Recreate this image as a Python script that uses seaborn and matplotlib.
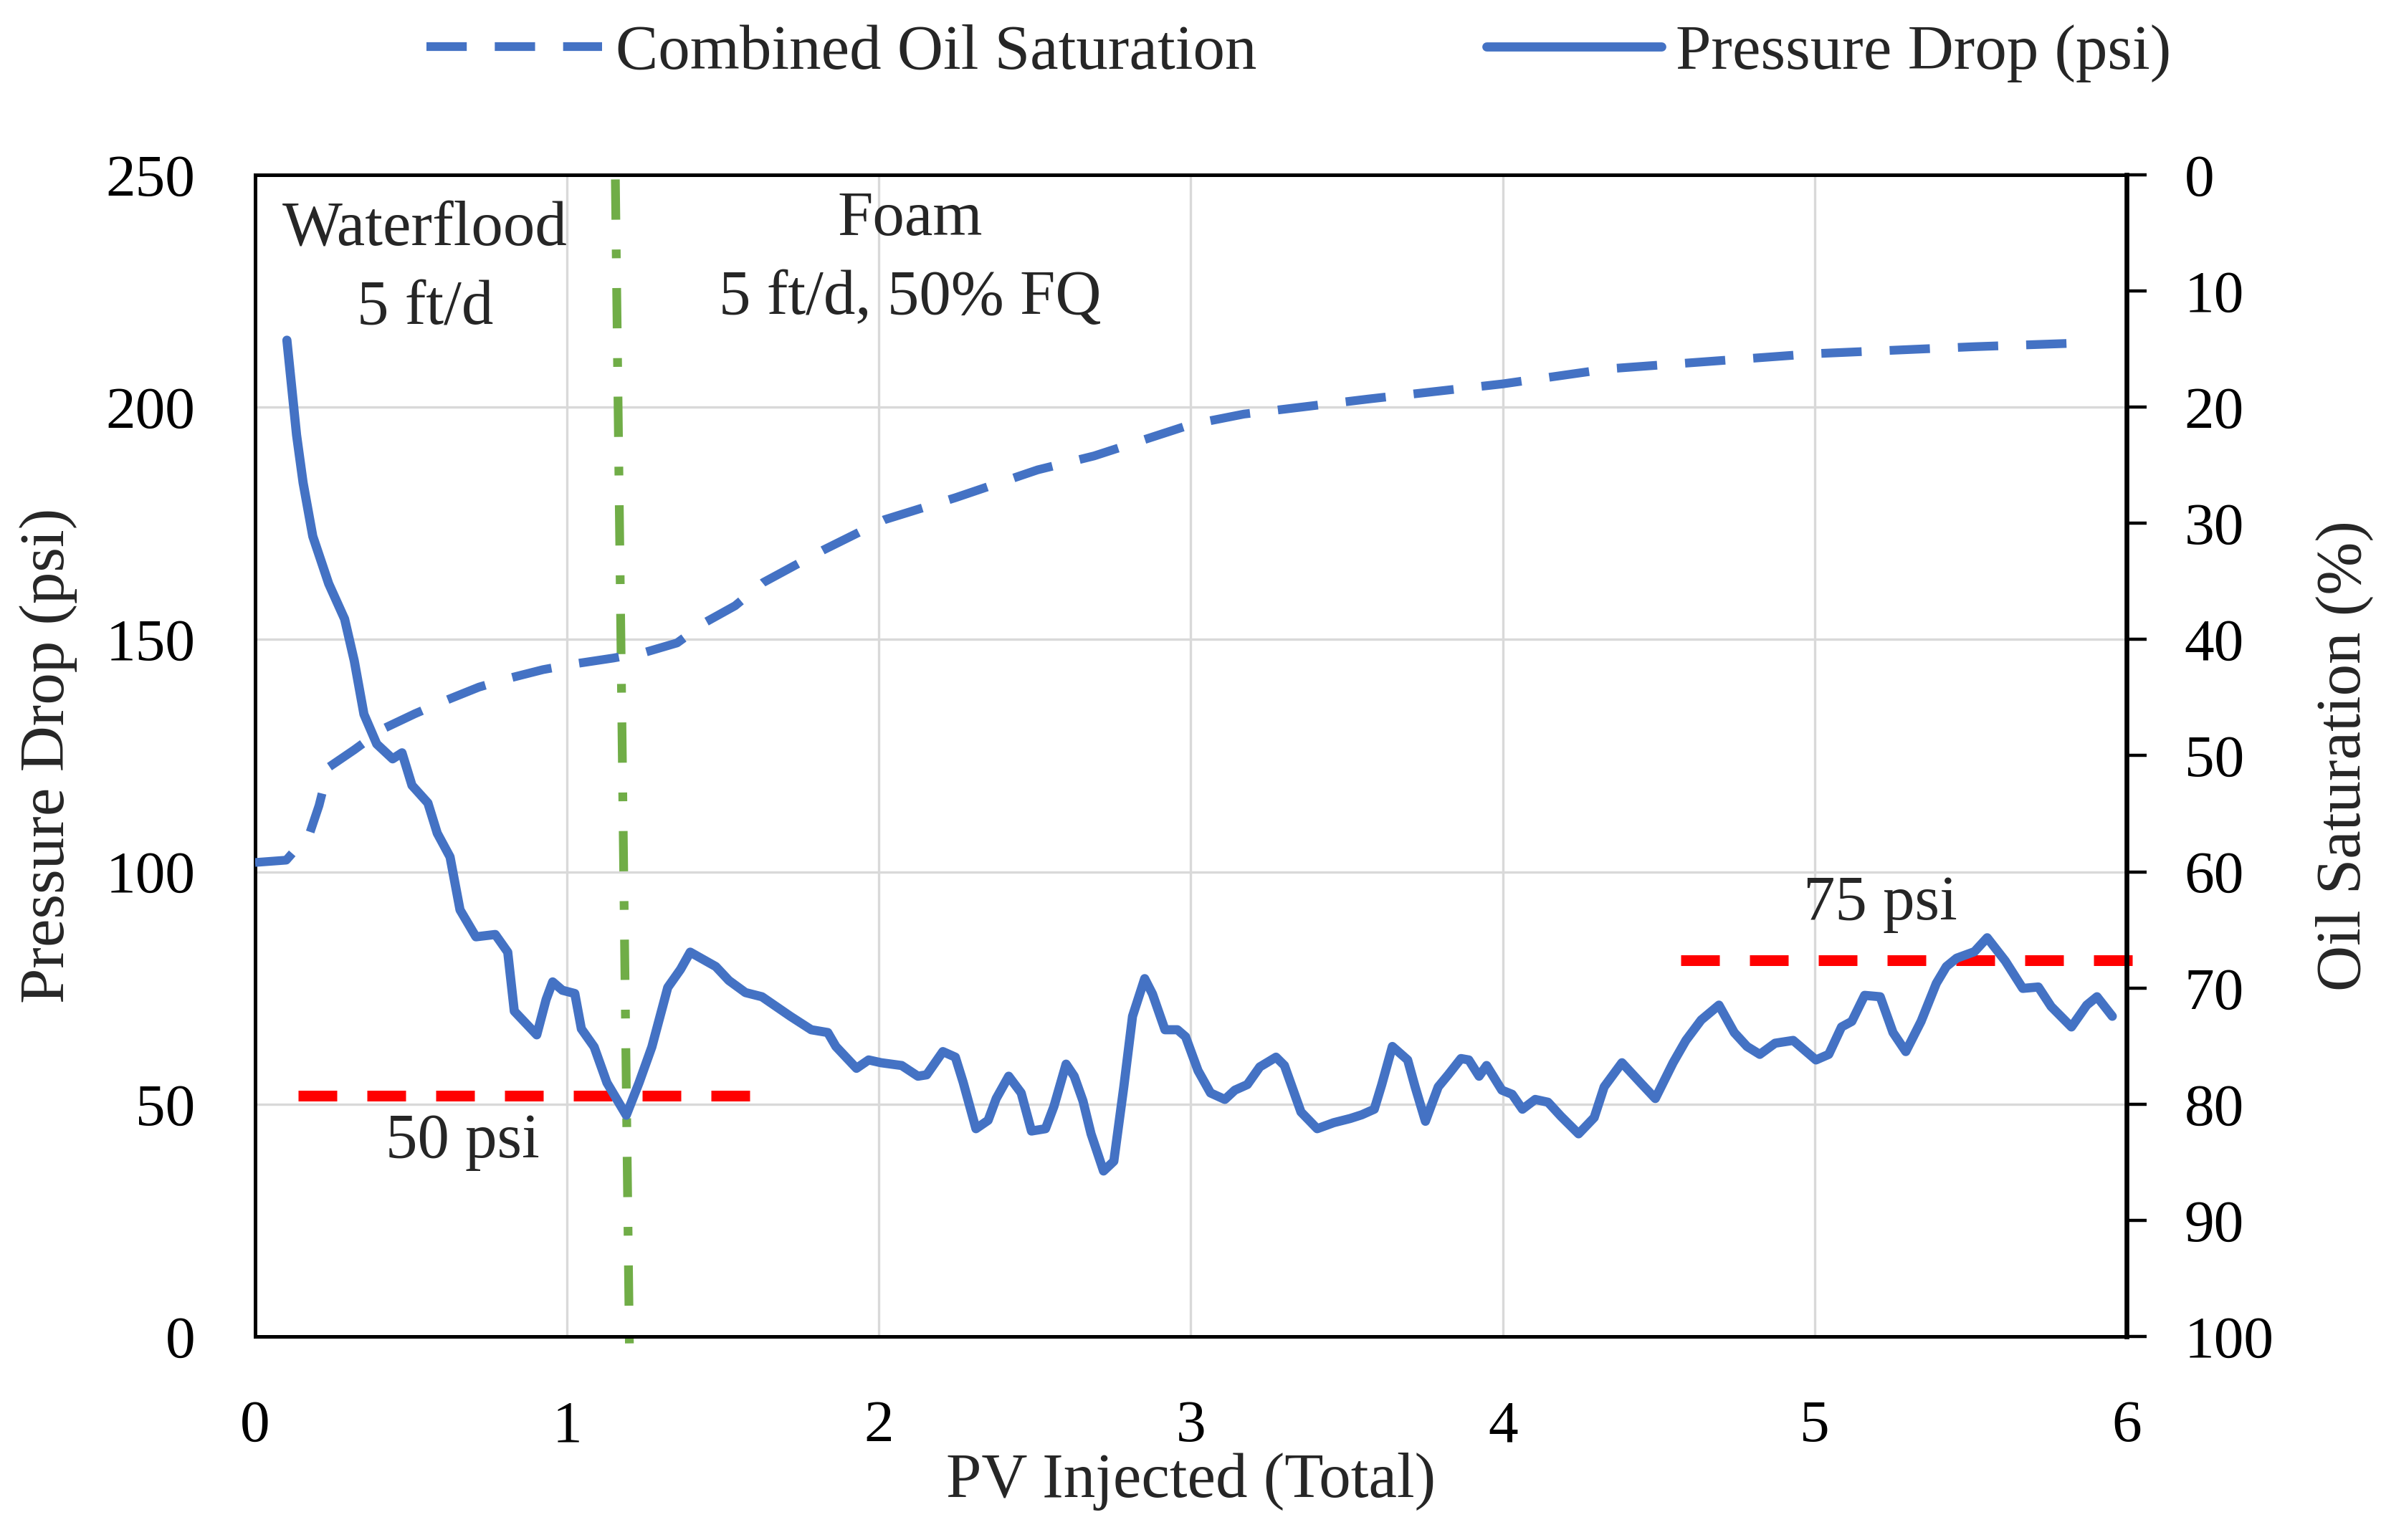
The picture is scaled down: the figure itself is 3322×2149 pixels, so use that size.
import matplotlib
matplotlib.use("Agg")
import matplotlib.pyplot as plt
import seaborn as sns

# pressure drop trace (psi) vs PV injected
pv = [0.102, 0.133, 0.154, 0.185, 0.236, 0.287, 0.318, 0.349, 0.390, 0.441,
      0.471, 0.503, 0.554, 0.584, 0.625, 0.657, 0.708, 0.770, 0.810, 0.831,
      0.903, 0.933, 0.954, 0.985, 1.025, 1.046, 1.087, 1.128, 1.190, 1.231,
      1.272, 1.323, 1.364, 1.395, 1.477, 1.519, 1.572, 1.625, 1.664, 1.716,
      1.783, 1.836, 1.862, 1.928, 1.967, 2.007, 2.073, 2.125, 2.153, 2.205,
      2.245, 2.270, 2.311, 2.350, 2.376, 2.416, 2.456, 2.489, 2.534, 2.561,
      2.600, 2.626, 2.654, 2.680, 2.720, 2.753, 2.785, 2.813, 2.852, 2.877,
      2.917, 2.957, 2.983, 3.023, 3.063, 3.109, 3.141, 3.181, 3.221, 3.273,
      3.300, 3.353, 3.405, 3.458, 3.511, 3.548, 3.588, 3.612, 3.646, 3.695,
      3.719, 3.752, 3.793, 3.825, 3.866, 3.891, 3.924, 3.948, 3.997, 4.030,
      4.063, 4.104, 4.145, 4.186, 4.243, 4.293, 4.325, 4.382, 4.440, 4.489,
      4.546, 4.587, 4.636, 4.693, 4.742, 4.783, 4.824, 4.873, 4.931, 5.004,
      5.045, 5.086, 5.119, 5.160, 5.210, 5.251, 5.292, 5.341, 5.390, 5.422,
      5.455, 5.512, 5.553, 5.611, 5.667, 5.717, 5.758, 5.823, 5.872, 5.905,
      5.954]
dp = [214.4, 194.0, 183.7, 172.2, 162.0, 154.4, 145.4, 133.9, 127.5, 124.3,
      125.6, 118.6, 114.8, 108.3, 103.2, 91.8, 86.0, 86.5, 82.7, 70.0,
      64.9, 72.5, 76.3, 74.5, 73.8, 66.2, 62.3, 54.6, 47.6, 54.6,
      62.3, 75.1, 79.0, 82.7, 79.6, 76.6, 74.0, 73.1, 71.3, 68.9,
      66.0, 65.4, 62.4, 57.7, 59.5, 58.9, 58.3, 56.0, 56.3, 61.3,
      60.1, 54.7, 44.7, 46.5, 51.2, 56.0, 52.4, 44.2, 44.7, 49.5,
      58.6, 56.0, 50.7, 43.6, 35.6, 37.7, 53.7, 68.9, 77.0, 73.7,
      66.0, 66.0, 64.5, 57.2, 52.4, 51.0, 53.0, 54.2, 58.0, 60.1,
      58.3, 48.3, 44.7, 46.0, 46.9, 47.7, 48.9, 54.2, 62.4, 59.5,
      53.7, 46.3, 53.7, 56.3, 59.8, 59.5, 56.0, 58.3, 53.0, 52.1,
      48.9, 51.0, 50.4, 47.4, 43.6, 47.1, 53.7, 58.9, 54.7, 51.2,
      58.9, 63.7, 68.1, 71.3, 65.4, 62.4, 60.7, 63.1, 63.7, 59.5,
      60.7, 66.6, 67.8, 73.4, 73.1, 65.4, 61.3, 67.8, 76.0, 79.6,
      81.4, 82.8, 85.8, 80.8, 74.9, 75.2, 71.0, 66.6, 71.3, 73.1,
      68.9]

# combined oil saturation (%)
sat_pv = [0.0, 0.10, 0.175, 0.205, 0.236, 0.318, 0.410, 0.512, 0.616, 0.718,
          0.820, 0.923, 1.025, 1.149, 1.251, 1.353, 1.445, 1.539, 1.629, 1.822,
          2.017, 2.245, 2.509, 2.69, 3.0, 3.17, 3.57, 4.0, 4.34, 5.0,
          5.51, 5.83]
sat = [59.2, 59.0, 56.7, 54.3, 51.0, 49.5, 47.7, 46.4, 45.2, 44.1,
       43.3, 42.6, 42.1, 41.6, 41.1, 40.3, 38.5, 37.1, 35.1, 32.3,
       29.7, 27.8, 25.4, 24.2, 21.5, 20.6, 19.3, 18.0, 16.7, 15.4,
       14.8, 14.5]

# reference lines
switch_pv = [1.155, 1.20]
switch_dp = [249.0, -1.5]
lvl50_pv = [0.138, 1.586]
lvl50_dp = [51.8, 51.8]
lvl75_pv = [4.57, 6.04]
lvl75_dp = [81.0, 81.0]

x_ticks = [0, 1, 2, 3, 4, 5, 6]
y_ticks = [0, 50, 100, 150, 200, 250]
sat_ticks = [0, 10, 20, 30, 40, 50, 60, 70, 80, 90, 100]

blue = "#4472C4"
red = "#FF0000"
green = "#70AD47"
grid_c = "#D9D9D9"

sns.set_style("white")
plt.rcParams["font.family"] = ["Liberation Serif", "DejaVu Serif"]
fs = 30     # tick labels
fs_txt = 32  # labels, notes, legend

fig, ax = plt.subplots(figsize=(16.615, 10.745), dpi=200)
fig.subplots_adjust(left=0.1071, right=0.8929, top=0.8865, bottom=0.1322)
ax2 = ax.twinx()

ax.set_axisbelow(True)
ax.grid(True, color=grid_c, linewidth=1.2)

sns.lineplot(x=lvl50_pv, y=lvl50_dp, ax=ax, color=red, linewidth=5.4,
             linestyle=(0, (3.6, 2.8)), legend=False, estimator=None)
sns.lineplot(x=lvl75_pv, y=lvl75_dp, ax=ax, color=red, linewidth=5.4,
             linestyle=(0, (3.6, 2.8)), legend=False, estimator=None)
ax.lines[-1].set_clip_on(False)
sns.lineplot(x=switch_pv, y=switch_dp, ax=ax, color=green, linewidth=4.4,
             linestyle=(0, (4.6, 3.4, 1.0, 3.4)), legend=False, estimator=None)
ax.lines[-1].set_clip_on(False)
sns.lineplot(x=pv, y=dp, ax=ax, color=blue, linewidth=4.6, legend=False,
             estimator=None, sort=False, label="Pressure Drop (psi)",
             solid_joinstyle="round", solid_capstyle="round")
sns.lineplot(x=sat_pv, y=sat, ax=ax2, color=blue, linewidth=4.4,
             linestyle=(0, (4.6, 3.2)), legend=False, estimator=None,
             sort=False, label="Combined Oil Saturation")

ax.set_xlim(0, 6)
ax.set_ylim(0, 250)
ax2.set_ylim(100, 0)
ax.set_xticks(x_ticks)
ax.set_yticks(y_ticks)
ax2.set_yticks(sat_ticks)

ax.tick_params(axis="both", length=0, labelsize=fs, colors="black")
ax.tick_params(axis="x", pad=32)
ax.tick_params(axis="y", pad=30)
ax2.tick_params(axis="y", direction="out", length=10, width=1.6,
                labelsize=fs, pad=19, colors="black")

for sp in ax.spines.values():
    sp.set_visible(True)
    sp.set_color("black")
    sp.set_linewidth(1.8)
for name, sp in ax2.spines.items():
    sp.set_visible(name == "right")
    sp.set_color("black")
    sp.set_linewidth(2.4)

ax.set_xlabel("PV Injected (Total)", fontsize=fs_txt)
ax.set_ylabel("Pressure Drop (psi)", fontsize=fs_txt)
ax2.set_ylabel("Oil Saturation (%)", fontsize=fs_txt)
ax.xaxis.set_label_coords(0.5, -0.100)
ax.yaxis.set_label_coords(-0.095, 0.5)
ax2.yaxis.set_label_coords(1.1005, 0.5)

ax.text(0.545, 235.0, "Waterflood", fontsize=fs_txt, ha="center", va="baseline")
ax.text(0.545, 218.0, "5 ft/d", fontsize=fs_txt, ha="center", va="baseline")
ax.text(2.10, 237.0, "Foam", fontsize=fs_txt, ha="center", va="baseline")
ax.text(2.10, 220.1, "5 ft/d, 50% FQ", fontsize=fs_txt, ha="center", va="baseline")
ax.text(0.666, 38.6, "50 psi", fontsize=fs_txt, ha="center", va="baseline")
ax.text(5.21, 89.8, "75 psi", fontsize=fs_txt, ha="center", va="baseline")

h1, l1 = ax2.get_legend_handles_labels()
h0, l0 = ax.get_legend_handles_labels()
fig.legend(h1 + h0, l1 + l0, loc="center", bbox_to_anchor=(0.5453, 0.9655),
           ncol=2, frameon=False, fontsize=fs_txt, handlelength=2.75,
           handletextpad=0.22, columnspacing=3.6)

fig.savefig("out.png", dpi=200)
